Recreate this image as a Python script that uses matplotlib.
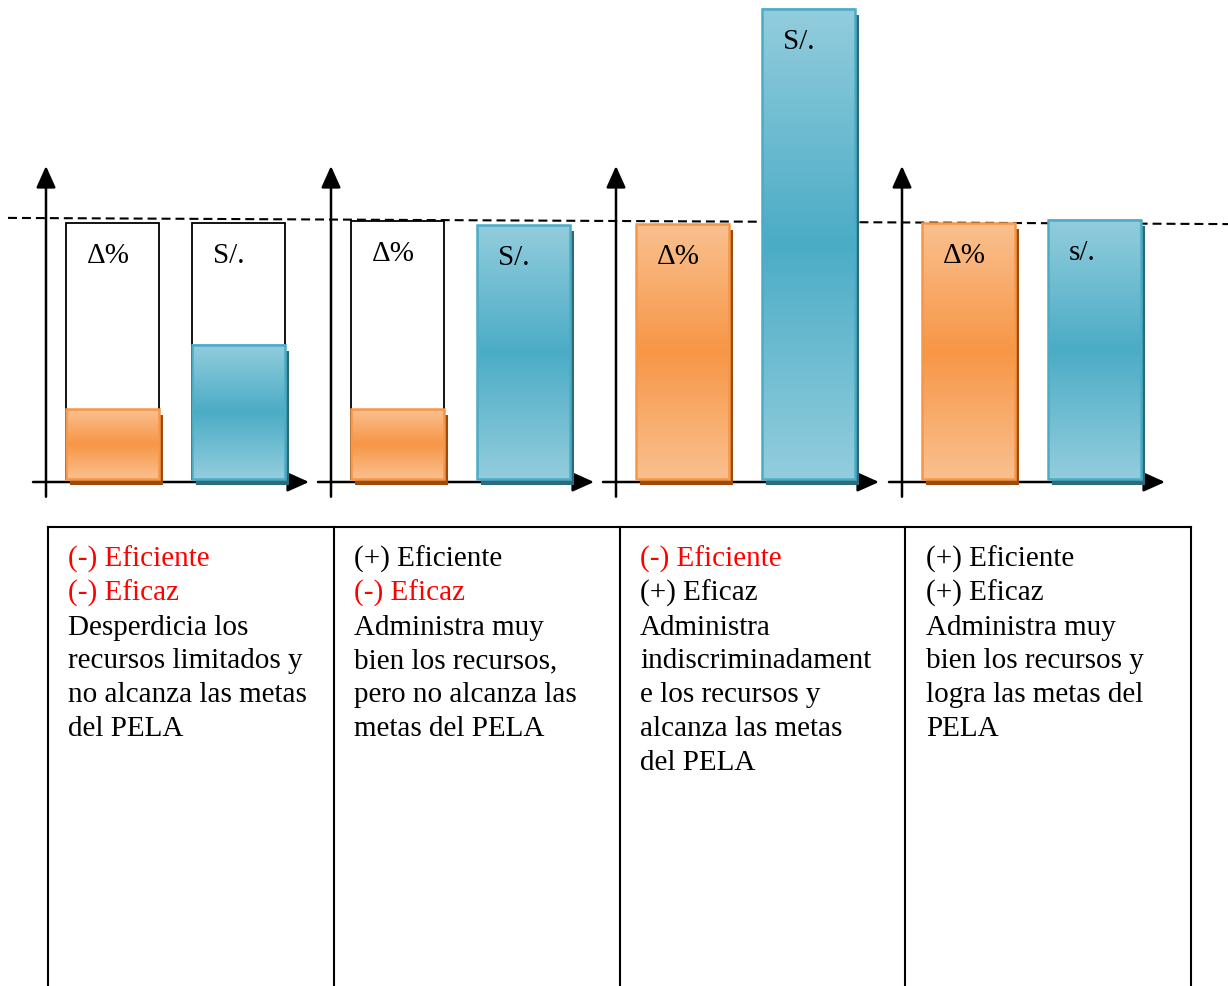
import numpy as np
import matplotlib
matplotlib.use("Agg")
import matplotlib.pyplot as plt
from matplotlib.patches import Rectangle
from matplotlib.colors import LinearSegmentedColormap

# ---- datos (altura relativa: 100 = linea de referencia) ----
etiquetas = [["Δ%", "S/."], ["Δ%", "S/."], ["Δ%", "S/."], ["Δ%", "s/."]]
delta_pct = [27, 27, 98.8, 99.2]        # barra naranja
soles = [52, 98.4, 182.2, 100.4]        # barra celeste
marco_delta = [99.2, 100, None, None]   # recuadro blanco detras
marco_soles = [99.2, None, None, None]
referencia = [101.2, 98.8]              # linea punteada (izq, der)

ROJO = "#ff0000"
NEGRO = "#000000"
textos = [
    [("(-) Eficiente", ROJO), ("(-) Eficaz", ROJO), ("Desperdicia los", NEGRO),
     ("recursos limitados y", NEGRO), ("no alcanza las metas", NEGRO), ("del PELA", NEGRO)],
    [("(+) Eficiente", NEGRO), ("(-) Eficaz", ROJO), ("Administra muy", NEGRO),
     ("bien los recursos,", NEGRO), ("pero no alcanza las", NEGRO), ("metas del PELA", NEGRO)],
    [("(-) Eficiente", ROJO), ("(+) Eficaz", NEGRO), ("Administra", NEGRO),
     ("indiscriminadament", NEGRO), ("e los recursos y", NEGRO), ("alcanza las metas", NEGRO),
     ("del PELA", NEGRO)],
    [("(+) Eficiente", NEGRO), ("(+) Eficaz", NEGRO), ("Administra muy", NEGRO),
     ("bien los recursos y", NEGRO), ("logra las metas del", NEGRO), ("PELA", NEGRO)],
]

# ---- estilo / layout (pixeles) ----
W, H = 1228, 987
FUENTE = "Liberation Serif"
BASE_PX = 480          # y pixel del cero
PX_UNIDAD = 2.58       # pixeles por unidad
EJE_X0 = [46, 331, 616, 902]
ANCHO = 93
X_DELTA, X_SOLES = 20, 146

naranja = ("#fac08f", "#f79646", "#f79646", "#9c4b0e")
celeste = ("#93cddd", "#4bacc6", "#4bacc6", "#2d6b7b")

fig = plt.figure(figsize=(W / 100, H / 100), dpi=100)

fondo = fig.add_axes([0, 0, 1, 1], zorder=0)
fondo.set_xlim(0, W)
fondo.set_ylim(H, 0)
fondo.axis("off")

# linea punteada de referencia
y_ref = [BASE_PX - PX_UNIDAD * r for r in referencia]
fondo.plot([8, W], y_ref, ls=(0, (4.3, 2.4)), color="black", lw=1.5)

# tabla inferior
cols_x = [48 + 285.75 * k for k in range(5)]
fondo.plot([cols_x[0], cols_x[-1]], [528, 528], color="black", lw=1.5)
for cx in cols_x:
    fondo.plot([cx, cx], [528, H + 5], color="black", lw=1.5)
for k, lineas in enumerate(textos):
    for j, (txt, col) in enumerate(lineas):
        fondo.text(cols_x[k] + 20.5, 567 + 33.8 * j, txt, color=col,
                   fontfamily=FUENTE, fontsize=21, va="baseline", ha="left")


def barra(ax, x, h, colores):
    claro, oscuro, borde, sombra = colores
    dx, dy = 4, -6 / PX_UNIDAD
    ax.add_patch(Rectangle((x + dx, dy), ANCHO, h, color=sombra, lw=0, zorder=2))
    cmap = LinearSegmentedColormap.from_list("g", [claro, oscuro, claro])
    grad = np.linspace(0, 1, 256).reshape(-1, 1)
    ax.imshow(grad, cmap=cmap, extent=[x, x + ANCHO, 0, h], aspect="auto",
              interpolation="bilinear", zorder=3)
    ax.add_patch(Rectangle((x, 0), ANCHO, h, fill=False, ec=borde, lw=1.8, zorder=4))


def etiqueta(ax, x, tope, txt):
    ax.annotate(txt, xy=(x, tope), xytext=(15, -28), textcoords="offset points",
                fontfamily=FUENTE, fontsize=21, va="baseline", ha="left", zorder=6)


y_min = -(499 - BASE_PX) / PX_UNIDAD
y_max = BASE_PX / PX_UNIDAD
flecha = dict(arrowstyle="-|>,head_length=0.6,head_width=0.27", lw=1.8,
              color="black", mutation_scale=22, shrinkA=0, shrinkB=0)

for i in range(4):
    x0 = EJE_X0[i]
    ax = fig.add_axes([(x0 - 15) / W, (H - 499) / H, 282 / W, 499 / H], zorder=1)
    ax.set_facecolor("none")
    ax.axis("off")

    for xb, marco in ((X_DELTA, marco_delta[i]), (X_SOLES, marco_soles[i])):
        if marco is not None:
            ax.add_patch(Rectangle((xb, 0), ANCHO, marco, fc="white", ec="black",
                                   lw=1.3, zorder=1))

    # ejes con flecha (debajo de las sombras)
    eje_y = -3 / PX_UNIDAD
    ax.annotate("", xy=(0, (BASE_PX - 167) / PX_UNIDAD), xytext=(0, y_min + 0.5),
                arrowprops=flecha, zorder=1.5)
    ax.annotate("", xy=(263, eje_y), xytext=(-13, eje_y), arrowprops=flecha, zorder=1.5)

    barra(ax, X_DELTA, delta_pct[i], naranja)
    barra(ax, X_SOLES, soles[i], celeste)

    tope_d = max(delta_pct[i], marco_delta[i] or 0)
    tope_s = max(soles[i], marco_soles[i] or 0)
    etiqueta(ax, X_DELTA, tope_d, etiquetas[i][0])
    etiqueta(ax, X_SOLES, tope_s, etiquetas[i][1])

    ax.set_xlim(-15, 267)
    ax.set_ylim(y_min, y_max)

fig.savefig("out.png", dpi=100)
